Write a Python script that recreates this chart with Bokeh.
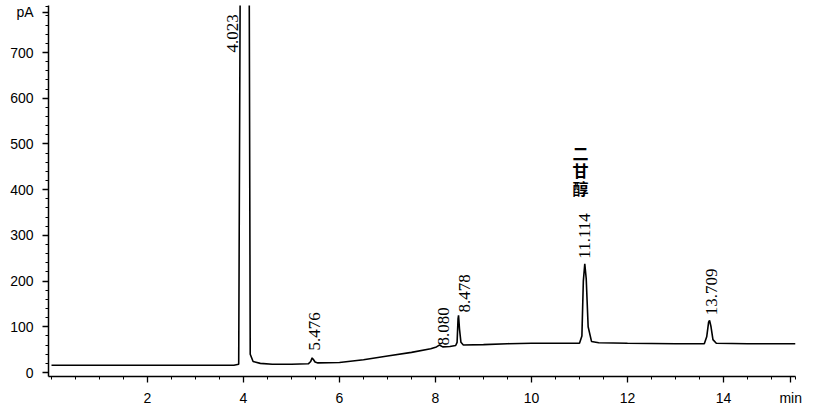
from bokeh.plotting import figure
from bokeh.models import FixedTicker, ColumnDataSource, Range1d
from bokeh.core.properties import value
from bokeh.embed import file_html
from bokeh.resources import INLINE

# chromatogram trace (time in min, signal in pA)
time_min = [0.0, 1.0, 2.0, 3.0, 3.80, 3.90, 3.93, 3.95, 4.10, 4.12, 4.14, 4.20, 4.35, 4.60,
            5.00, 5.35, 5.40, 5.43, 5.46, 5.49, 5.55, 6.00, 6.50, 7.00, 7.50, 7.90, 8.02,
            8.08, 8.15, 8.30, 8.42, 8.45, 8.47, 8.48, 8.50, 8.53, 8.58, 9.00, 9.50, 10.00,
            10.60, 11.00, 11.05, 11.08, 11.11, 11.14, 11.18, 11.25, 11.40, 12.00, 13.00,
            13.60, 13.65, 13.69, 13.71, 13.74, 13.78, 13.85, 14.50, 15.50]
signal_pa = [16, 16, 16, 16, 16, 18, 820, 820, 820, 820, 40, 24, 20, 18,
             18, 19, 24, 32, 28, 23, 21, 22, 28, 36, 44, 52, 56,
             60, 56, 57, 59, 66, 118, 125, 95, 66, 60, 61, 63, 64,
             64, 64, 80, 200, 238, 205, 100, 68, 65, 64, 63,
             63, 78, 110, 114, 100, 72, 64, 63, 63]

peak_labels = ["4.023", "5.476", "8.080", "8.478", "11.114", "13.709"]
peak_label_x = [3.77, 5.48, 8.17, 8.60, 11.10, 13.75]
peak_label_y = [700, 48, 59, 131, 249, 125]

compound_name = ["二\n甘\n醇"]
compound_x = [11.02]
compound_y = [442]

x_ticks = [2, 4, 6, 8, 10, 12, 14]
x_minor = [i * 0.5 for i in range(0, 32)]
x_unit_pos = 15.4
y_ticks = [0, 100, 200, 300, 400, 500, 600, 700]
y_minor = [i * 20 for i in range(0, 41)]
y_unit_pos = 788

p = figure(width=839, height=409, output_backend="svg", toolbar_location=None,
           x_range=Range1d(-0.0625, 15.5), y_range=Range1d(-8.75, 802.9),
           min_border_left=48, min_border_right=44, min_border_top=5, min_border_bottom=33)
p.outline_line_color = None
p.xgrid.visible = False
p.ygrid.visible = False
p.background_fill_color = "white"

p.line(time_min, signal_pa, line_color="black", line_width=1.6)

src = ColumnDataSource(dict(x=peak_label_x, y=peak_label_y, t=peak_labels))
p.text(x="x", y="y", text="t", source=src, angle=1.5708, text_align="left",
       text_baseline="middle", text_font=value("Liberation Serif"),
       text_font_size="17px", text_color="black")

csrc = ColumnDataSource(dict(x=compound_x, y=compound_y, t=compound_name))
p.text(x="x", y="y", text="t", source=csrc, text_align="center", text_baseline="middle",
       text_font=value("Noto Sans CJK SC"), text_font_size="16px", text_font_style="bold",
       text_color="black", text_line_height=0.72)

for ax in (p.xaxis[0], p.yaxis[0]):
    ax.axis_line_color = "black"
    ax.axis_line_width = 1.5
    ax.major_tick_line_color = "black"
    ax.minor_tick_line_color = "black"
    ax.major_tick_line_width = 1.3
    ax.minor_tick_line_width = 1
    ax.major_tick_in = 0
    ax.major_tick_out = 6
    ax.minor_tick_in = 0
    ax.minor_tick_out = 3
    ax.major_label_text_font = "Liberation Sans"
    ax.major_label_text_font_size = "14px"
    ax.major_label_text_color = "black"

p.xaxis.ticker = FixedTicker(ticks=x_ticks + [x_unit_pos], minor_ticks=x_minor)
p.xaxis.major_label_overrides = {x_unit_pos: "min"}
p.yaxis.ticker = FixedTicker(ticks=y_ticks + [y_unit_pos], minor_ticks=y_minor)
p.yaxis.major_label_overrides = {y_unit_pos: "pA"}
p.xaxis.major_label_standoff = 7
p.yaxis.major_label_standoff = 9

open("out.html", "w").write(file_html(p, INLINE))
